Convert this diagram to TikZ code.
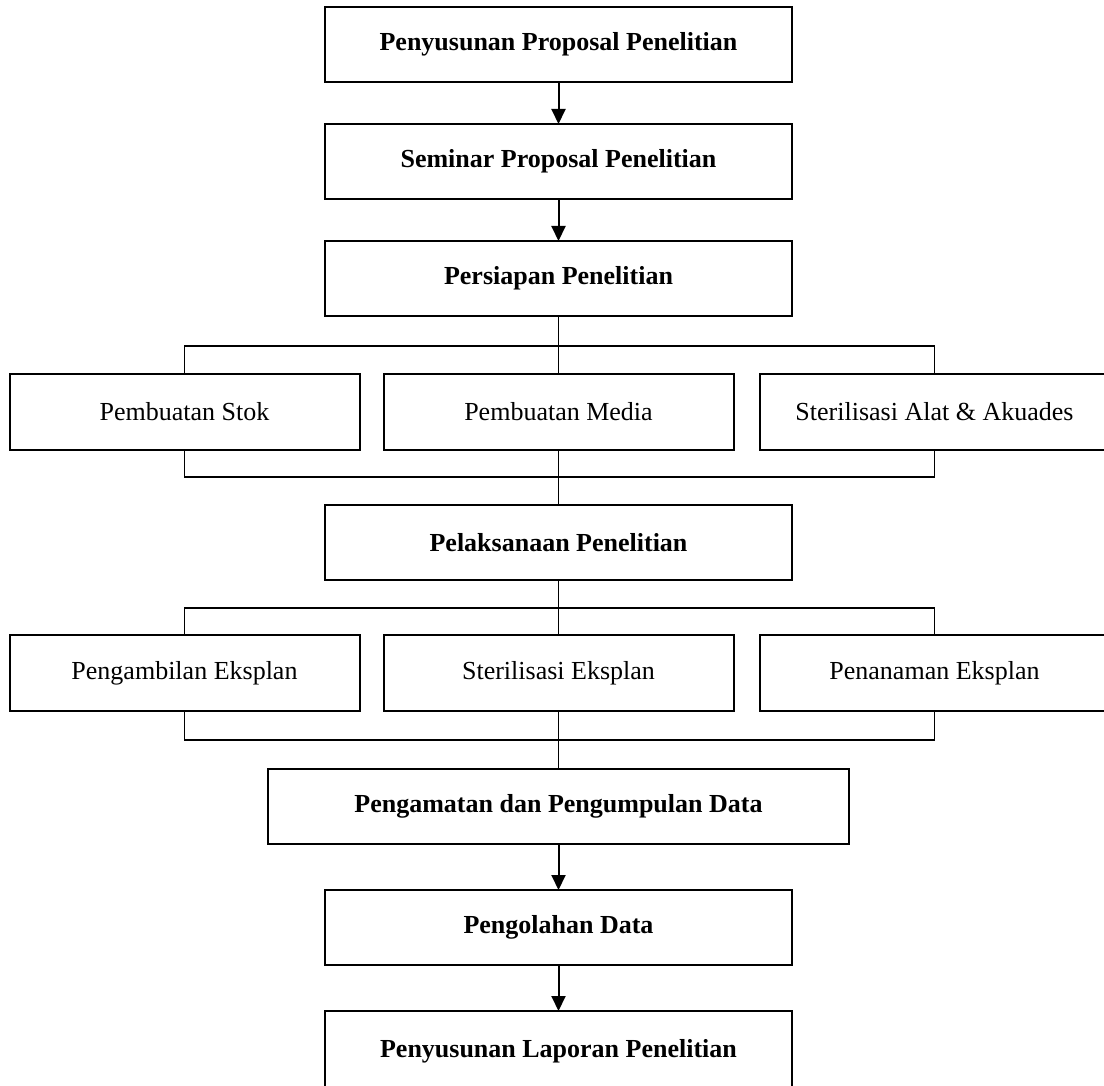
\documentclass[tikz,border=0pt]{standalone}
\usepackage{fontspec}
\setmainfont{Liberation Serif}
\usetikzlibrary{positioning,arrows.meta}

\begin{document}
\begin{tikzpicture}[
    node distance=42pt and 24pt,
    box/.style={rectangle, draw, line width=2pt, outer sep=0pt, minimum width=467pt, minimum height=75pt, align=center, font=\fontsize{26}{30}\selectfont},
    stagebox/.style={box, font=\fontsize{26}{30}\selectfont\bfseries},
    widebox/.style={stagebox, minimum width=581pt},
    subbox/.style={box, minimum width=350pt, minimum height=76pt},
    arrow/.style={-{Triangle[length=15pt,width=14pt]}, line width=2pt},
    link/.style={line width=1.6pt}
]
\useasboundingbox (0pt,0pt) rectangle (1104pt,-1086pt);

% Tahap awal
\node[stagebox] (proposal) at (558.5pt,-44.5pt) {Penyusunan Proposal Penelitian};
\node[stagebox, below=of proposal] (seminar) {Seminar Proposal Penelitian};
\node[stagebox, below=of seminar] (persiapan) {Persiapan Penelitian};

% Row 1: Persiapan
\node[subbox, below=58pt of persiapan] (media) {Pembuatan Media};
\node[subbox, left=of media] (stok) {Pembuatan Stok};
\node[subbox, right=26pt of media] (sterilisasi) {Sterilisasi Alat \& Akuades};
\coordinate[below=30pt of persiapan] (forkA);
\coordinate[below=27pt of media] (joinA);

% Row 2: Pelaksanaan
\node[stagebox, below=55pt of media] (pelaksanaan) {Pelaksanaan Penelitian};
\node[subbox, below=55pt of pelaksanaan] (sterileks) {Sterilisasi Eksplan};
\node[subbox, left=of sterileks] (pengambilan) {Pengambilan Eksplan};
\node[subbox, right=26pt of sterileks] (penanaman) {Penanaman Eksplan};
\coordinate[below=28pt of pelaksanaan] (forkB);
\coordinate[below=29pt of sterileks] (joinB);

% Tahap akhir
\node[widebox, below=58pt of sterileks] (pengamatan) {Pengamatan dan Pengumpulan Data};
\node[stagebox, below=46pt of pengamatan] (pengolahan) {Pengolahan Data};
\node[stagebox, below=46pt of pengolahan, minimum height=80pt] (laporan) {Penyusunan Laporan Penelitian};

% Arrows
\draw[arrow] (proposal) -- (seminar);
\draw[arrow] (seminar) -- (persiapan);
\draw[arrow] (pengamatan) -- (pengolahan);
\draw[arrow] (pengolahan) -- (laporan);

% Branch lines Row 1
\draw[link] (persiapan) -- (forkA);
\draw[link] (stok.north) |- (forkA) -| (sterilisasi.north);
\draw[link] (forkA) -- (media);
\draw[link] (stok.south) |- (joinA) -| (sterilisasi.south);
\draw[link] (media) -- (pelaksanaan);

% Branch lines Row 2
\draw[link] (pelaksanaan) -- (forkB);
\draw[link] (pengambilan.north) |- (forkB) -| (penanaman.north);
\draw[link] (forkB) -- (sterileks);
\draw[link] (pengambilan.south) |- (joinB) -| (penanaman.south);
\draw[link] (sterileks) -- (pengamatan);

\end{tikzpicture}
\end{document}
